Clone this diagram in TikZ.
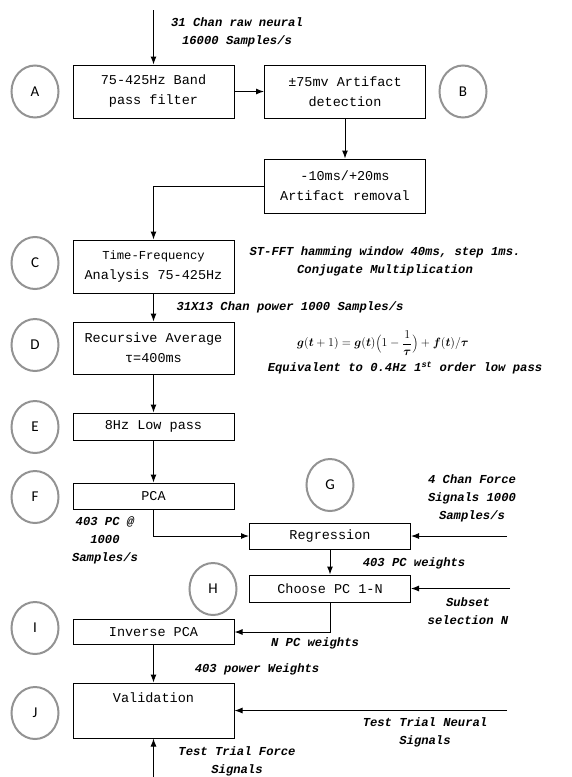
\documentclass[tikz,border=0pt]{standalone}
\usepackage{bm}
\usepackage{fontspec}
\setmainfont{Liberation Mono}
\newfontfamily\tagfont{Carlito}
\usetikzlibrary{arrows.meta,shapes.geometric}

\tikzset{
  stage/.style={draw, line width=1pt, minimum width=161pt, align=center, inner sep=3pt,
    font=\fontsize{13.5}{20}\selectfont},
  tag/.style={ellipse, draw=gray!85, line width=2pt, minimum width=47pt, minimum height=52pt,
    inner sep=0pt, font=\tagfont\fontsize{15}{15}\selectfont},
  note/.style={align=center, font=\bfseries\itshape\fontsize{12.2}{18}\selectfont},
  formula/.style={font=\fontsize{12}{14}\selectfont},
  flow/.style={-{Latex[length=8pt,width=6pt]}, line width=1pt}
}

\begin{document}
\begin{tikzpicture}[x=1pt, y=-1pt]
  \useasboundingbox (0,0) rectangle (571,777);

  % Processing stages (left column)
  \node[stage, minimum height=53pt] (bpf) at (153.5,91.5) {75-425Hz Band\\pass filter};
  \node[stage, minimum height=53pt] (tfa) at (153.5,266.5)
    {\fontsize{12.2}{17}\selectfont Time-Frequency\\Analysis 75-425Hz};
  \node[stage, minimum height=52pt] (rav) at (153.5,348) {Recursive Average\\τ=400ms};
  \node[stage, minimum height=27pt] (lpf) at (153.5,426.5) {8Hz Low pass};
  \node[stage, minimum height=26pt] (pca) at (153.5,496) {PCA};
  \node[stage, minimum height=25pt] (ipca) at (153.5,632) {Inverse PCA};
  \node[stage, minimum height=55pt, inner ysep=4pt, text height=15pt, text depth=32pt] (val)
    at (153.5,710.5) {Validation};

  % Artifact stages and regression (right column)
  \node[stage, minimum height=53pt] (art) at (345,91.5) {±75mv Artifact\\detection};
  \node[stage, minimum height=54pt] (rem) at (345,186) {-10ms/+20ms\\Artifact removal};
  \node[stage, minimum height=26pt] (reg) at (330,536) {Regression};
  \node[stage, minimum height=27pt] (cpc) at (330,588.5) {Choose PC 1-N};

  % Step letters
  \node[tag] (tA) at (35,91.5) {A};
  \node[tag] (tB) at (463,91.5) {B};
  \node[tag] (tC) at (35,263) {C};
  \node[tag] (tD) at (35,345) {D};
  \node[tag] (tE) at (35,427) {E};
  \node[tag] (tF) at (35,497) {F};
  \node[tag] (tG) at (330,485) {G};
  \node[tag] (tH) at (213,589) {H};
  \node[tag] (tI) at (35,628) {I};
  \node[tag] (tJ) at (35,713) {J};

  % Free ends of the inputs
  \coordinate (raw) at (153.5,10);
  \coordinate (force) at (507,536);
  \coordinate (subset) at (510,588.5);
  \coordinate (neural) at (507,710.5);
  \coordinate (trial) at (153.5,777);

  % Connectors
  \draw[flow] (raw) -- (bpf);
  \draw[flow] (bpf) -- (art);
  \draw[flow] (art) -- (rem);
  \draw[flow] (rem.west) -| (tfa.north);
  \draw[flow] (tfa) -- (rav);
  \draw[flow] (rav) -- (lpf);
  \draw[flow] (lpf) -- (pca);
  \draw[flow] (pca.south) |- (reg.west);
  \draw[flow] (force) -- (reg.east);
  \draw[flow] (reg) -- (cpc);
  \draw[flow] (subset) -- (cpc.east);
  \draw[flow] (cpc.south) |- (ipca.east);
  \draw[flow] (ipca) -- (val);
  \draw[flow] (neural) -- (val.east);
  \draw[flow] (trial) -- (val.south);

  % Signal annotations
  \node[note] (nraw) at (237,32.5) {31 Chan raw neural\\16000 Samples/s};
  \node[note] (nfft) at (385,261.5) {ST-FFT hamming window 40ms, step 1ms.\\Conjugate Multiplication};
  \node[note] (npow) at (290,307) {31X13 Chan power 1000 Samples/s};
  \node[formula] (geq) at (383,343)
    {$\displaystyle \bm{g}(\bm{t}+1)=\bm{g}(\bm{t})\Bigl(1-\frac{1}{\bm{\tau}}\Bigr)+\bm{f}(\bm{t})/\bm{\tau}$};
  \node[note] (nlow) at (405,368) {Equivalent to 0.4Hz 1\textsuperscript{st} order low pass};
  \node[note] (npc) at (105,540) {403 PC @\\1000\\Samples/s};
  \node[note] (nforce) at (472,498) {4 Chan Force\\Signals 1000\\Samples/s};
  \node[note] (nwts) at (414,563) {403 PC weights};
  \node[note] (nsub) at (468,611.5) {Subset\\selection N};
  \node[note] (nnpc) at (315,643) {N PC weights};
  \node[note] (npw) at (257,669) {403 power Weights};
  \node[note] (nneur) at (425,732.5) {Test Trial Neural\\Signals};
  \node[note] (nft) at (237,761) {Test Trial Force\\Signals};

\end{tikzpicture}
\end{document}
